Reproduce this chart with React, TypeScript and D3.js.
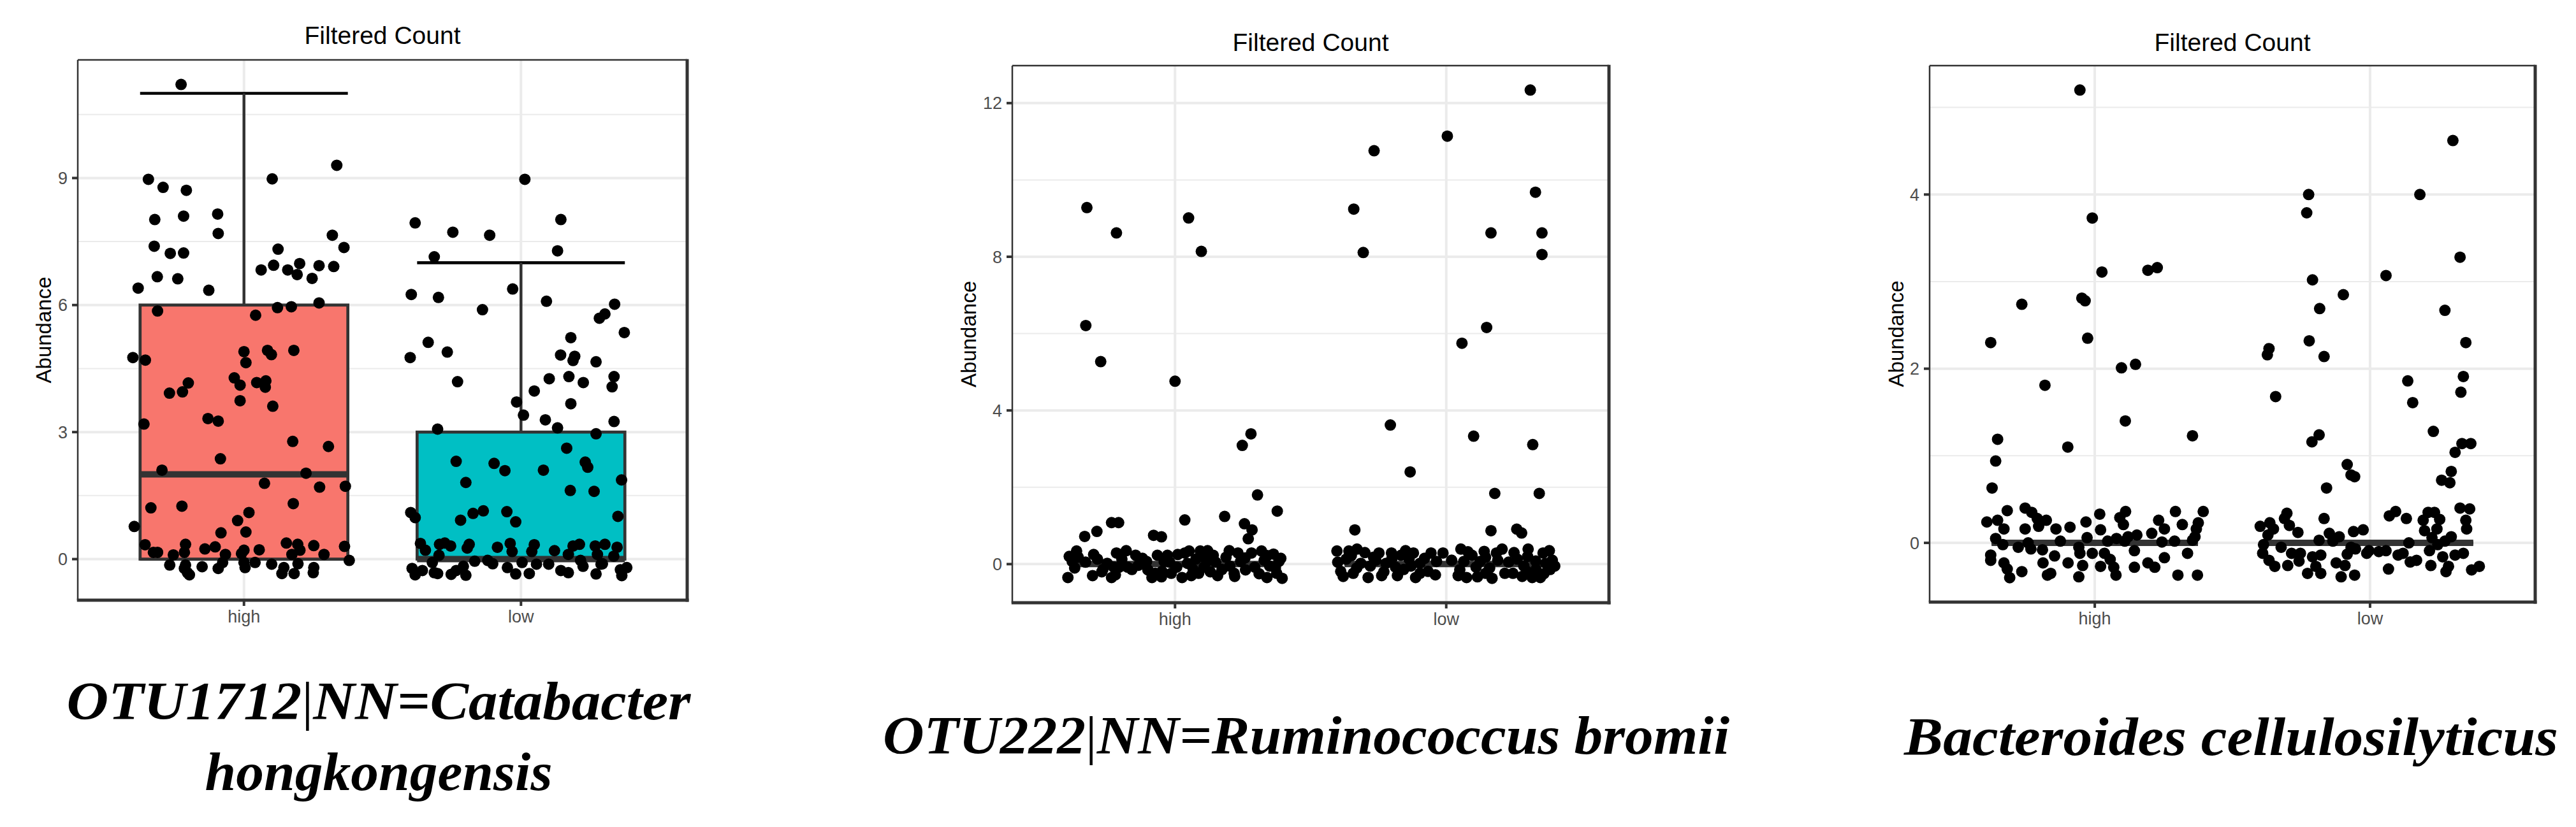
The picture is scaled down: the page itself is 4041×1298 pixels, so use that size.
import React from "react";
import * as d3 from "d3";

// ---------- data ----------
const categories = ["high", "low"];
const panelTitles = ["Filtered Count", "Filtered Count", "Filtered Count"];
const yAxisLabel = "Abundance";
const captionLines = [
  ["OTU1712|NN=Catabacter", "hongkongensis"],
  ["OTU222|NN=Ruminococcus bromii"],
  ["Bacteroides cellulosilyticus"],
];
const p1Ticks = [0, 3, 6, 9];
const p2Ticks = [0, 4, 8, 12];
const p3Ticks = [0, 2, 4];

// box stats: [lower whisker, Q1, median, Q3, upper whisker]
const p1HighBox = [0, 0, 2, 6, 11];
const p1LowBox = [0, 0, 0, 3, 7];
const p2HighBox = [0, 0, 0, 0, 0];
const p2LowBox = [0, 0, 0, 0, 0];
const p3HighBox = [0, 0, 0, 0, 0];
const p3LowBox = [0, 0, 0, 0, 0];

// points: [horizontal jitter (category units), abundance]
const p1High: [number, number][] = [
  [-0.227, 11.21], [-0.345, 8.97], [-0.292, 8.78], [-0.208, 8.71], [0.102, 8.98], [0.335, 9.3],
  [-0.322, 8.02], [-0.218, 8.1], [-0.095, 8.15], [-0.093, 7.69], [-0.324, 7.39], [-0.266, 7.22],
  [-0.218, 7.23], [0.123, 7.32], [0.319, 7.65], [0.361, 7.36], [-0.382, 6.4], [-0.313, 6.67],
  [-0.239, 6.62], [-0.127, 6.35], [0.062, 6.83], [0.107, 6.94], [0.158, 6.83], [0.192, 6.72],
  [0.201, 6.98], [0.246, 6.63], [0.271, 6.93], [0.324, 6.91], [-0.312, 5.86], [0.042, 5.76],
  [0.121, 5.94], [0.171, 5.96], [0.271, 6.05], [-0.401, 4.76], [-0.356, 4.7], [0, 4.9],
  [0.007, 4.64], [0.085, 4.93], [0.099, 4.83], [0.18, 4.93], [-0.269, 3.92], [-0.222, 3.95],
  [-0.201, 4.16], [-0.035, 4.28], [-0.014, 4.11], [0.046, 4.17], [0.079, 4.21], [0.077, 4.06],
  [-0.014, 3.74], [0.104, 3.61], [-0.361, 3.19], [-0.13, 3.32], [-0.093, 3.26], [0.176, 2.78],
  [0.305, 2.66], [-0.085, 2.37], [-0.296, 2.1], [0.224, 2.03], [0.074, 1.79], [0.273, 1.7],
  [0.366, 1.72], [-0.336, 1.21], [-0.224, 1.25], [0.178, 1.31], [0.018, 1.1], [-0.023, 0.91],
  [-0.396, 0.77], [-0.083, 0.62], [0.007, 0.64],
  [-0.357, 0.34], [-0.327, 0.16], [-0.312, 0.16], [-0.255, 0.1], [-0.215, 0.16], [-0.211, 0.35],
  [-0.141, 0.24], [-0.104, 0.29], [-0.067, 0.11], [-0.009, 0.13], [0, 0.21], [0.055, 0.22],
  [0.153, 0.38], [0.194, 0.35], [0.202, 0.21], [0.173, 0.11], [0.252, 0.32], [0.289, 0.11],
  [0.363, 0.3], [0.38, -0.03], [-0.268, -0.14], [-0.211, -0.14], [-0.204, -0.32], [-0.215, -0.22],
  [-0.151, -0.18], [-0.093, -0.22], [-0.077, -0.08], [0, -0.08], [0.004, -0.2], [0.04, -0.08],
  [0.1, -0.12], [0.137, -0.34], [0.144, -0.2], [0.181, -0.34], [0.195, -0.11], [0.252, -0.2],
  [0.25, -0.32], [-0.197, -0.37],
];
const p1Low: [number, number][] = [
  [0.014, 8.97], [-0.382, 7.94], [-0.246, 7.72], [-0.113, 7.65], [0.144, 8.02], [0.132, 7.28],
  [-0.313, 7.14], [-0.396, 6.25], [-0.298, 6.18], [-0.03, 6.38], [-0.139, 5.89], [0.092, 6.09],
  [0.338, 6.02], [0.283, 5.69], [0.303, 5.79], [0.373, 5.35], [-0.335, 5.12], [-0.266, 4.89],
  [-0.4, 4.76], [0.18, 5.23], [0.143, 4.82], [0.194, 4.79], [0.188, 4.69], [0.271, 4.66],
  [-0.229, 4.19], [0.102, 4.26], [0.173, 4.31], [0.225, 4.17], [0.336, 4.31], [0.329, 4.07],
  [0.048, 3.97], [-0.016, 3.71], [0.009, 3.4], [0.18, 3.67], [0.088, 3.29], [0.132, 3.1],
  [0.336, 3.25], [-0.301, 3.07], [0.271, 2.96], [-0.234, 2.31], [-0.097, 2.26], [-0.058, 2.09],
  [0.081, 2.1], [0.165, 2.62], [0.232, 2.29], [0.241, 2.17], [-0.199, 1.81], [0.178, 1.62],
  [0.264, 1.6], [0.363, 1.87], [-0.398, 1.1], [-0.382, 0.98], [-0.218, 0.92], [-0.173, 1.08],
  [-0.136, 1.14], [-0.051, 1.12], [-0.019, 0.88], [0.35, 1.01],
  [-0.363, 0.37], [-0.345, 0.21], [-0.294, 0.35], [-0.275, 0.38], [-0.254, 0.31], [-0.187, 0.35],
  [-0.194, 0.26], [-0.296, 0.09], [-0.085, 0.28], [-0.039, 0.37], [-0.032, 0.18], [0.048, 0.34],
  [0.039, 0.18], [0.121, 0.2], [0.171, 0.11], [0.188, 0.31], [0.211, 0.35], [0.268, 0.31],
  [0.303, 0.35], [0.347, 0.28], [0.276, 0.11], [-0.12, -0.03], [-0.167, -0.05], [-0.102, -0.11],
  [0.004, -0.08], [0.056, -0.12], [0.1, -0.12], [0.215, -0.03], [0.294, -0.11], [0.335, 0.07],
  [-0.393, -0.22], [-0.382, -0.37], [-0.356, -0.27], [-0.32, -0.08], [-0.313, -0.32], [-0.301, -0.34],
  [-0.252, -0.36], [-0.234, -0.27], [-0.199, -0.38], [-0.208, -0.17], [-0.049, -0.2], [-0.019, -0.35],
  [0.03, -0.34], [0.144, -0.27], [0.171, -0.32], [0.224, -0.17], [0.271, -0.35], [0.289, -0.12],
  [0.359, -0.25], [0.382, -0.2], [0.364, -0.39],
];
const p2High: [number, number][] = [
  [-0.325, 9.28], [-0.216, 8.62], [0.05, 9.01], [0.097, 8.14], [-0.329, 6.21], [-0.274, 5.27],
  [0, 4.76], [0.28, 3.39], [0.248, 3.09], [0.304, 1.8], [0.377, 1.38], [0.183, 1.24],
  [0.036, 1.15], [-0.234, 1.08], [-0.208, 1.08], [-0.288, 0.85], [-0.333, 0.72], [-0.079, 0.75],
  [-0.05, 0.71], [0.256, 1.05], [0.284, 0.89], [0.27, 0.66],
  [-0.395, -0.35], [-0.379, 0.07], [-0.363, 0.34], [-0.357, 0.18], [-0.304, -0.3], [-0.286, 0.13],
  [-0.25, 0.02], [-0.234, -0.35], [-0.216, 0.29], [-0.206, -0.08], [-0.196, 0.13], [-0.159, -0.14],
  [-0.145, 0.23], [-0.135, -0.03], [-0.085, -0.35], [-0.073, -0.24], [-0.065, 0.23], [-0.04, 0.07],
  [-0.028, 0.23], [-0.014, -0.24], [0.026, -0.35], [0.036, 0.29], [0.046, 0.02], [0.052, 0.34],
  [0.067, -0.14], [0.077, 0.13], [0.093, 0.34], [0.107, -0.08], [0.117, 0.07], [0.141, 0.23],
  [0.157, -0.3], [0.173, -0.14], [0.188, 0.18], [0.202, -0.05], [0.218, -0.24], [0.232, 0.29],
  [0.242, 0.07], [0.258, 0.16], [0.282, 0.29], [0.294, -0.08], [0.319, 0.34], [0.329, 0.1],
  [0.339, -0.35], [0.349, -0.05], [0.363, 0.26], [0.375, -0.24], [0.383, 0.07], [0.395, -0.37],
  [-0.266, -0.14], [-0.226, -0.08], [-0.105, 0.07], [0.006, -0.08], [0.087, -0.24], [-0.048, -0.19],
  [-0.175, -0.08],
  [-0.39, 0.2], [-0.37, -0.1], [-0.33, 0.05], [-0.3, 0.25], [-0.27, -0.2], [-0.18, 0.35],
  [-0.12, 0.15], [-0.1, -0.15], [-0.02, 0.05], [0.01, 0.25], [0.06, -0.3], [0.1, 0.2],
  [0.13, -0.2], [0.15, 0.05], [0.2, 0.35], [0.22, -0.32], [0.26, -0.15], [0.31, -0.25],
  [0.34, 0.22], [0.37, -0.1], [0.39, 0.15], [-0.22, -0.28], [-0.05, -0.33], [0.12, 0.35],
];
const p2Low: [number, number][] = [
  [0.31, 12.34], [0.004, 11.14], [-0.266, 10.76], [-0.341, 9.24], [0.329, 9.68], [-0.306, 8.11],
  [0.165, 8.62], [0.353, 8.62], [0.353, 8.06], [0.149, 6.16], [0.058, 5.75], [-0.206, 3.62],
  [0.101, 3.33], [0.319, 3.11], [-0.133, 2.4], [0.179, 1.84], [0.343, 1.84], [-0.337, 0.89],
  [0.165, 0.87], [0.26, 0.91], [0.278, 0.81], [0.054, 0.39], [0.302, 0.39],
  [-0.403, 0.34], [-0.389, -0.19], [-0.369, 0.13], [-0.359, 0.34], [-0.343, -0.24], [-0.329, 0.39],
  [-0.315, 0.02], [-0.288, -0.35], [-0.268, 0.18], [-0.248, 0.29], [-0.238, -0.3], [-0.222, 0.02],
  [-0.202, 0.29], [-0.187, -0.08], [-0.167, 0.23], [-0.157, -0.14], [-0.137, 0.13], [-0.121, 0.29],
  [-0.113, -0.35], [-0.097, 0.02], [-0.067, -0.19], [-0.056, 0.29], [-0.036, 0.07], [-0.012, 0.29],
  [0.044, -0.3], [0.065, 0.07], [0.075, -0.35], [0.095, 0.23], [0.115, -0.33], [0.125, 0.07],
  [0.145, -0.24], [0.169, -0.37], [0.185, 0.29], [0.206, 0.39], [0.216, -0.24], [0.246, -0.24],
  [0.262, 0.13], [0.286, -0.05], [0.317, -0.35], [0.331, -0.14], [0.347, -0.35], [0.357, 0.29],
  [0.367, 0.02], [0.383, -0.14], [0.391, 0.1], [-0.097, -0.24], [0.145, 0.18],
  [-0.4, 0.05], [-0.38, -0.32], [-0.35, 0.22], [-0.33, -0.1], [-0.3, 0.3], [-0.28, -0.05],
  [-0.26, 0.1], [-0.23, -0.2], [-0.2, 0.15], [-0.18, -0.3], [-0.15, 0.35], [-0.13, -0.05],
  [-0.08, 0.15], [-0.04, -0.28], [0.02, 0.1], [0.05, -0.15], [0.08, 0.32], [0.11, -0.08],
  [0.14, 0.33], [0.16, -0.1], [0.19, 0.1], [0.23, 0.05], [0.25, 0.3], [0.28, -0.32],
  [0.3, 0.2], [0.33, 0.08], [0.36, -0.25], [0.38, 0.35], [0.4, -0.05], [0.3, -0.2],
];
const p3High: [number, number][] = [
  [-0.054, 5.2], [-0.009, 3.73], [0.026, 3.11], [0.193, 3.13], [0.227, 3.16], [-0.265, 2.74],
  [-0.047, 2.81], [-0.035, 2.78], [-0.026, 2.35], [-0.378, 2.3], [0.097, 2.01], [0.148, 2.05],
  [-0.181, 1.81], [0.111, 1.4], [0.355, 1.23], [-0.098, 1.1], [-0.353, 1.19], [-0.36, 0.94],
  [-0.373, 0.63],
  [-0.392, 0.24], [-0.353, 0.26], [-0.33, 0.16], [-0.318, 0.37], [-0.36, 0.05], [-0.334, -0.02],
  [-0.378, -0.14], [-0.378, -0.2], [-0.33, -0.23], [-0.318, -0.3], [-0.309, -0.4], [-0.278, -0.05],
  [-0.265, -0.33], [-0.253, 0.4], [-0.253, 0.16], [-0.242, 0], [-0.229, 0.35], [-0.232, -0.07],
  [-0.209, 0.28], [-0.204, 0.19], [-0.19, -0.08], [-0.188, -0.23], [-0.176, 0.26], [-0.172, -0.37],
  [-0.16, -0.35], [-0.146, -0.15], [-0.141, 0.16], [-0.125, 0.02], [-0.097, -0.23], [-0.09, 0.18],
  [-0.058, -0.05], [-0.058, -0.39], [-0.054, -0.12], [-0.044, -0.26], [-0.032, 0.24], [-0.028, 0.06],
  [-0.009, -0.12], [0.018, 0.33], [0.021, 0.15], [0.021, -0.27], [0.035, -0.12], [0.047, 0.02],
  [0.056, -0.19], [0.069, -0.28], [0.077, -0.37], [0.079, 0.05], [0.091, 0.29], [0.104, 0.21],
  [0.112, 0.36], [0.109, 0.02], [0.121, 0.07], [0.144, -0.09], [0.144, -0.28], [0.153, 0.09],
  [0.193, -0.23], [0.207, 0.11], [0.218, -0.28], [0.232, 0.26], [0.244, 0.01], [0.253, 0.16],
  [0.253, -0.17], [0.29, 0.02], [0.293, 0.36], [0.302, -0.37], [0.318, 0.21], [0.337, -0.12],
  [0.355, 0.03], [0.369, 0.16], [0.373, -0.37], [0.376, 0.23], [0.394, 0.36], [0.364, 0.07],
];
const p3Low: [number, number][] = [
  [0.301, 4.62], [-0.223, 4.0], [0.181, 4.0], [-0.23, 3.79], [0.327, 3.28], [0.058, 3.07],
  [-0.209, 3.02], [-0.097, 2.85], [-0.183, 2.69], [0.272, 2.67], [-0.221, 2.32], [0.348, 2.3],
  [-0.167, 2.14], [-0.373, 2.16], [-0.367, 2.23], [0.137, 1.86], [0.339, 1.91], [0.33, 1.73],
  [-0.343, 1.68], [0.155, 1.61], [0.23, 1.28], [-0.185, 1.24], [-0.211, 1.16], [0.334, 1.14],
  [0.366, 1.14], [0.309, 1.04], [-0.083, 0.9], [-0.069, 0.78], [-0.056, 0.76], [0.295, 0.82],
  [0.26, 0.72], [0.29, 0.69], [-0.158, 0.63],
  [-0.399, 0.19], [-0.364, 0.23], [-0.351, 0.16], [-0.371, 0.09], [-0.387, -0.02], [-0.39, -0.12],
  [-0.367, -0.2], [-0.346, -0.27], [-0.323, -0.05], [-0.311, 0.28], [-0.302, 0.34], [-0.299, -0.26],
  [-0.293, 0.2], [-0.285, -0.12], [-0.262, 0.12], [-0.258, -0.21], [-0.253, -0.12], [-0.227, -0.35],
  [-0.209, -0.16], [-0.197, -0.27], [-0.179, -0.35], [-0.179, -0.14], [-0.185, 0.03], [-0.167, 0.28],
  [-0.148, 0.11], [-0.135, 0.02], [-0.123, -0.23], [-0.112, 0.07], [-0.105, -0.39], [-0.091, -0.26],
  [-0.083, -0.13], [-0.069, -0.05], [-0.06, 0.13], [-0.056, -0.37], [-0.053, -0.07], [-0.025, 0.15],
  [-0.012, -0.12], [-0.004, -0.09], [0.032, -0.1], [0.058, -0.09], [0.07, 0.31], [0.067, -0.3],
  [0.093, 0.36], [0.102, -0.14], [0.12, -0.12], [0.132, 0.28], [0.141, 0], [0.146, -0.22],
  [0.169, -0.2], [0.193, 0.26], [0.198, 0.14], [0.211, 0.35], [0.216, -0.09], [0.221, -0.26],
  [0.225, 0.06], [0.234, 0.35], [0.243, 0.16], [0.246, -0.02], [0.253, 0.27], [0.264, -0.16],
  [0.272, 0.02], [0.276, -0.33], [0.285, -0.27], [0.295, 0.07], [0.309, -0.14], [0.327, 0.4],
  [0.339, -0.12], [0.348, 0.26], [0.351, 0.16], [0.362, 0.39], [0.369, -0.31], [0.397, -0.27],
];

// ---------- layout / style ----------
const W = 4041;
const H = 1298;
const boxFills = ["#F8766D", "#00BFC4"];
const SANS = "'Liberation Sans', Arial, Helvetica, sans-serif";
const SERIF = "'Liberation Serif', 'DejaVu Serif', serif";
const DARK = "#333333";

const panels = [
  {
    frame: { left: 122, right: 1078, top: 94, bottom: 942 },
    titleY: 69, ylabX: 80, ticks: p1Ticks,
    groups: [p1High, p1Low], boxes: [p1HighBox, p1LowBox],
    caption: { cx: 594, ys: [1129, 1240], widths: [979, 545] },
  },
  {
    frame: { left: 1588, right: 2524, top: 103, bottom: 946 },
    titleY: 80, ylabX: 1531, ticks: p2Ticks,
    groups: [p2High, p2Low], boxes: [p2HighBox, p2LowBox],
    caption: { cx: 2049, ys: [1183], widths: [1328] },
  },
  {
    frame: { left: 3027, right: 3977, top: 103, bottom: 945 },
    titleY: 80, ylabX: 2986, ticks: p3Ticks,
    groups: [p3High, p3Low], boxes: [p3HighBox, p3LowBox],
    caption: { cx: 3500, ys: [1185], widths: [1026] },
  },
];

function captionParts(line: string) {
  // the vertical bar is set in a regular weight, the rest in bold italic
  const parts = line.split("|");
  const out: React.ReactNode[] = [];
  parts.forEach((s, i) => {
    if (i > 0)
      out.push(
        <tspan key={"bar" + i} fontWeight="normal" fontStyle="normal">
          |
        </tspan>
      );
    out.push(<tspan key={"s" + i}>{s}</tspan>);
  });
  return out;
}

function Panel({ p, idx }: { p: (typeof panels)[number]; idx: number }) {
  const { left, right, top, bottom } = p.frame;
  const x = d3.scaleLinear().domain([0.4, categories.length + 0.6]).range([left, right]);
  const allY = p.groups.flat().map((d) => d[1]).concat(p.boxes.flat());
  const [mn, mx] = d3.extent(allY) as [number, number];
  const pad = (mx - mn) * 0.05;
  const y = d3.scaleLinear().domain([mn - pad, mx + pad]).range([bottom, top]);
  const step = p.ticks[1] - p.ticks[0];
  const minor = d3
    .range(p.ticks[0] - step / 2, mx + pad + step, step)
    .filter((v) => v > mn - pad && v < mx + pad);
  const bw = 0.75;
  const cx = (left + right) / 2;
  const cy = (top + bottom) / 2;
  return (
    <g>
      <text x={cx} y={p.titleY} textAnchor="middle" fontFamily={SANS} fontSize={39} fill="#000">
        {panelTitles[idx]}
      </text>
      <rect x={left} y={top} width={right - left} height={bottom - top} fill="#fff" />
      {minor.map((v) => (
        <line key={"mn" + v} x1={left} x2={right} y1={y(v)} y2={y(v)} stroke="#EBEBEB" strokeWidth={2} />
      ))}
      {p.ticks.map((v) => (
        <line key={"mj" + v} x1={left} x2={right} y1={y(v)} y2={y(v)} stroke="#EBEBEB" strokeWidth={4} />
      ))}
      {categories.map((c, i) => (
        <line key={"gx" + c} x1={x(i + 1)} x2={x(i + 1)} y1={top} y2={bottom} stroke="#EBEBEB" strokeWidth={4} />
      ))}
      {p.boxes.map((b, i) => (
        <g key={"eb" + i}>
          <line x1={x(i + 1 - bw / 2)} x2={x(i + 1 + bw / 2)} y1={y(b[4])} y2={y(b[4])} stroke="#000" strokeWidth={4.7} />
          <line x1={x(i + 1 - bw / 2)} x2={x(i + 1 + bw / 2)} y1={y(b[0])} y2={y(b[0])} stroke="#000" strokeWidth={4.7} />
          <line x1={x(i + 1)} x2={x(i + 1)} y1={y(b[4])} y2={y(b[3])} stroke="#000" strokeWidth={4} />
        </g>
      ))}
      {p.boxes.map((b, i) => (
        <g key={"bx" + i}>
          <line x1={x(i + 1)} x2={x(i + 1)} y1={y(b[3])} y2={y(b[4])} stroke={DARK} strokeWidth={4} />
          <rect
            x={x(i + 1 - bw / 2)}
            y={y(b[3])}
            width={x(i + 1 + bw / 2) - x(i + 1 - bw / 2)}
            height={Math.max(0, y(b[1]) - y(b[3]))}
            fill={boxFills[i]}
            stroke={DARK}
            strokeWidth={4.7}
          />
          <line x1={x(i + 1 - bw / 2)} x2={x(i + 1 + bw / 2)} y1={y(b[2])} y2={y(b[2])} stroke={DARK} strokeWidth={10} />
        </g>
      ))}
      {p.groups.map((g, i) =>
        g.map((d, j) => <circle key={"pt" + i + "-" + j} cx={x(i + 1 + d[0])} cy={y(d[1])} r={9} fill="#000" />)
      )}
      <line x1={left} x2={right} y1={top} y2={top} stroke={DARK} strokeWidth={2.5} />
      <line x1={left} x2={left} y1={top} y2={bottom} stroke={DARK} strokeWidth={2.5} />
      <line x1={right} x2={right} y1={top - 1.25} y2={bottom + 2.5} stroke={DARK} strokeWidth={5} />
      <line x1={left - 1.25} x2={right + 2.5} y1={bottom} y2={bottom} stroke={DARK} strokeWidth={5} />
      {p.ticks.map((v) => (
        <g key={"yt" + v}>
          <line x1={left - 9} x2={left} y1={y(v)} y2={y(v)} stroke={DARK} strokeWidth={4} />
          <text x={left - 16} y={y(v) + 9.5} textAnchor="end" fontFamily={SANS} fontSize={27} fill="#4D4D4D">
            {v}
          </text>
        </g>
      ))}
      {categories.map((c, i) => (
        <g key={"xt" + c}>
          <line x1={x(i + 1)} x2={x(i + 1)} y1={bottom} y2={bottom + 9} stroke={DARK} strokeWidth={4} />
          <text x={x(i + 1)} y={bottom + 35} textAnchor="middle" fontFamily={SANS} fontSize={27} fill="#4D4D4D">
            {c}
          </text>
        </g>
      ))}
      <text
        transform={`translate(${p.ylabX},${cy}) rotate(-90)`}
        textAnchor="middle"
        fontFamily={SANS}
        fontSize={33}
        fill="#000"
      >
        {yAxisLabel}
      </text>
      {captionLines[idx].map((line, k) => (
        <text
          key={"cap" + k}
          x={p.caption.cx}
          y={p.caption.ys[k]}
          textAnchor="middle"
          fontFamily={SERIF}
          fontStyle="italic"
          fontWeight="bold"
          fontSize={84}
          fill="#000"
          textLength={p.caption.widths[k]}
          lengthAdjust="spacingAndGlyphs"
        >
          {captionParts(line)}
        </text>
      ))}
    </g>
  );
}

export default function App() {
  return (
    <svg
      width={W}
      height={H}
      viewBox={`0 0 ${W} ${H}`}
      style={{ position: "absolute", left: 0, top: 0, background: "#fff" }}
    >
      <rect x={0} y={0} width={W} height={H} fill="#fff" />
      {panels.map((p, i) => (
        <Panel key={i} p={p} idx={i} />
      ))}
    </svg>
  );
}
